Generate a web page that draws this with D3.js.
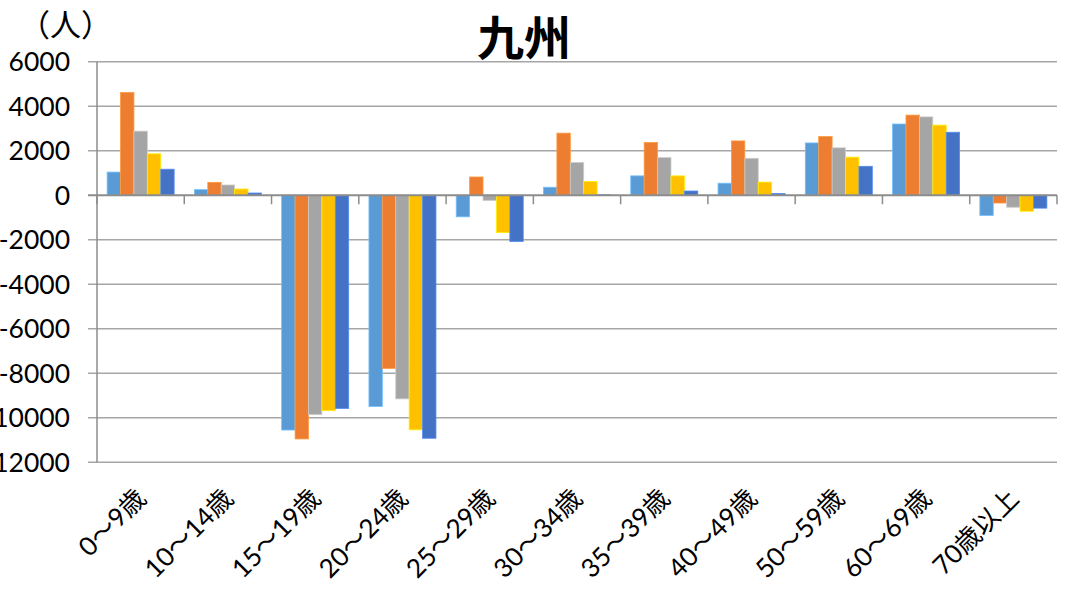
<!DOCTYPE html>
<html><head><meta charset="utf-8">
<script src="https://cdn.jsdelivr.net/npm/d3@7"></script>
<style>body{margin:0;background:#fff}svg{display:block}</style>
</head><body>
<svg id="c" width="1067" height="589"></svg>
<script>
const categories = ["0～9歳","10～14歳","15～19歳","20～24歳","25～29歳","30～34歳","35～39歳","40～49歳","50～59歳","60～69歳","70歳以上"];
const series1 = [1040, 250, -10550, -9490, -970, 360, 870, 540, 2350, 3200, -910];
const series2 = [4620, 580, -10950, -7780, 820, 2790, 2370, 2440, 2640, 3600, -350];
const series3 = [2880, 460, -9860, -9150, -240, 1470, 1690, 1660, 2130, 3520, -540];
const series4 = [1860, 280, -9680, -10540, -1680, 620, 870, 590, 1710, 3150, -720];
const series5 = [1170, 100, -9580, -10920, -2080, 20, 190, 80, 1300, 2830, -580];
const yTicks = [6000, 4000, 2000, 0, -2000, -4000, -6000, -8000, -10000, -12000];
const colors = ["#5B9BD5", "#ED7D31", "#A5A5A5", "#FFC000", "#4472C4"];
const title = "九州";
const unit = "（人）";

const allSeries = [series1, series2, series3, series4, series5];
const svg = d3.select("#c");
const L = 97, R = 1057, T = 61.7, B = 462.3;
const font = "Lato, 'Noto Sans CJK JP', sans-serif";

const x = d3.scaleBand().domain(categories).range([L, R]).paddingInner(0.232).paddingOuter(0.116);
const y = d3.scaleLinear().domain([-12000, 6000]).range([B, T]);
const xs = d3.scaleBand().domain(d3.range(5)).range([0, x.bandwidth()]);

// gridlines
svg.append("g").selectAll("line").data(yTicks.filter(d => d !== 0)).join("line")
  .attr("x1", L - 9).attr("x2", R).attr("y1", d => y(d)).attr("y2", d => y(d))
  .attr("stroke", "#A6A6A6").attr("stroke-width", 1.5);

// bars
const g = svg.append("g");
allSeries.forEach((s, i) => {
  g.append("g").selectAll("rect").data(s).join("rect")
    .attr("x", (d, j) => x(categories[j]) + xs(i))
    .attr("width", xs.bandwidth())
    .attr("y", d => Math.min(y(d), y(0)))
    .attr("height", d => Math.abs(y(d) - y(0)))
    .attr("fill", colors[i])
    .attr("stroke", d3.color(colors[i]).brighter(0.6))
    .attr("stroke-width", 0.8);
});

// left axis line
svg.append("line").attr("x1", L).attr("x2", L).attr("y1", T).attr("y2", B)
  .attr("stroke", "#8C8C8C").attr("stroke-width", 1.5);

// zero axis with ticks
svg.append("line").attr("x1", L - 9).attr("x2", R).attr("y1", y(0)).attr("y2", y(0))
  .attr("stroke", "#8C8C8C").attr("stroke-width", 1.8);
const bounds = categories.map((c, j) => L + j * (R - L) / categories.length).concat([R]);
svg.append("g").selectAll("line").data(bounds).join("line")
  .attr("x1", d => d).attr("x2", d => d).attr("y1", y(0)).attr("y2", y(0) + 9)
  .attr("stroke", "#8C8C8C").attr("stroke-width", 1.5);

// y tick labels
svg.append("g").selectAll("text").data(yTicks).join("text")
  .attr("x", 70).attr("y", d => y(d) + 9.5).attr("text-anchor", "end")
  .attr("font-family", font).attr("font-size", 26.5).attr("fill", "#000")
  .text(d => d);

// x labels
svg.append("g").selectAll("text").data(categories).join("text")
  .attr("transform", d => `translate(${x(d) + x.bandwidth() / 2 + 7},${500}) rotate(-45)`)
  .attr("text-anchor", "end")
  .attr("font-family", font).attr("font-size", 26).attr("fill", "#000")
  .text(d => d);

// title and unit
svg.append("text").attr("x", 524).attr("y", 55).attr("text-anchor", "middle")
  .attr("font-family", "'Noto Sans CJK JP', sans-serif").attr("font-weight", "bold")
  .attr("font-size", 47).attr("fill", "#000").text(title);
svg.append("text").attr("x", 19).attr("y", 36)
  .attr("font-family", "'Noto Sans CJK JP', sans-serif")
  .attr("font-size", 31).attr("fill", "#000").text(unit);
</script>
</body></html>
